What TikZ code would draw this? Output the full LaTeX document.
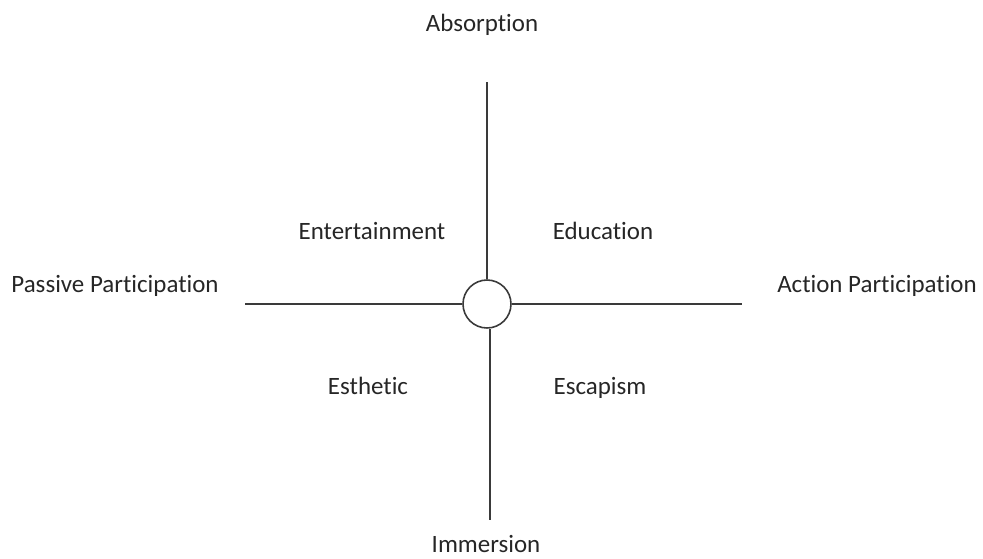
\documentclass[tikz,border=0pt]{standalone}
\usepackage{fontspec}
\setmainfont[Ligatures=NoCommon]{Carlito}
\usetikzlibrary{positioning,calc}
\definecolor{axisgray}{HTML}{3A3A3A}
\definecolor{labelgray}{HTML}{262626}

\begin{document}
\begin{tikzpicture}[x=0.02cm,y=-0.02cm]
\tikzset{axis/.style={draw=axisgray, line width=0.9pt},
  lbl/.style={text=labelgray, font=\fontsize{14.2}{16}\selectfont, inner sep=0pt, anchor=base}}
\useasboundingbox (0,0) rectangle (983,558);
\node[circle, draw=axisgray, line width=0.9pt, fill=white, minimum size=0.96cm, inner sep=0pt] (hub) at (487,304) {};
\coordinate (top) at (487,82);
\coordinate (bot) at (490,520);
\coordinate (lft) at (245,304);
\coordinate (rgt) at (742,304);
\draw[axis] (hub.north) -- (top);
\draw[axis] (bot |- hub.south) -- (bot);
\draw[axis] (hub.west) -- (lft);
\draw[axis] (hub.east) -- (rgt);
\node[lbl] (absorb) at (482,31) {Absorption};
\node[lbl] (immers) at (486,552) {Immersion};
\node[lbl] (passive) at (115,292) {Passive Participation};
\node[lbl] (action) at (877,292) {Action Participation};
\node[lbl] (entert) at (372,239) {Entertainment};
\node[lbl] (educ) at (603,239) {Education};
\node[lbl] (esthet) at (368,394) {Esthetic};
\node[lbl] (escap) at (600,394) {Escapism};
\end{tikzpicture}
\end{document}
